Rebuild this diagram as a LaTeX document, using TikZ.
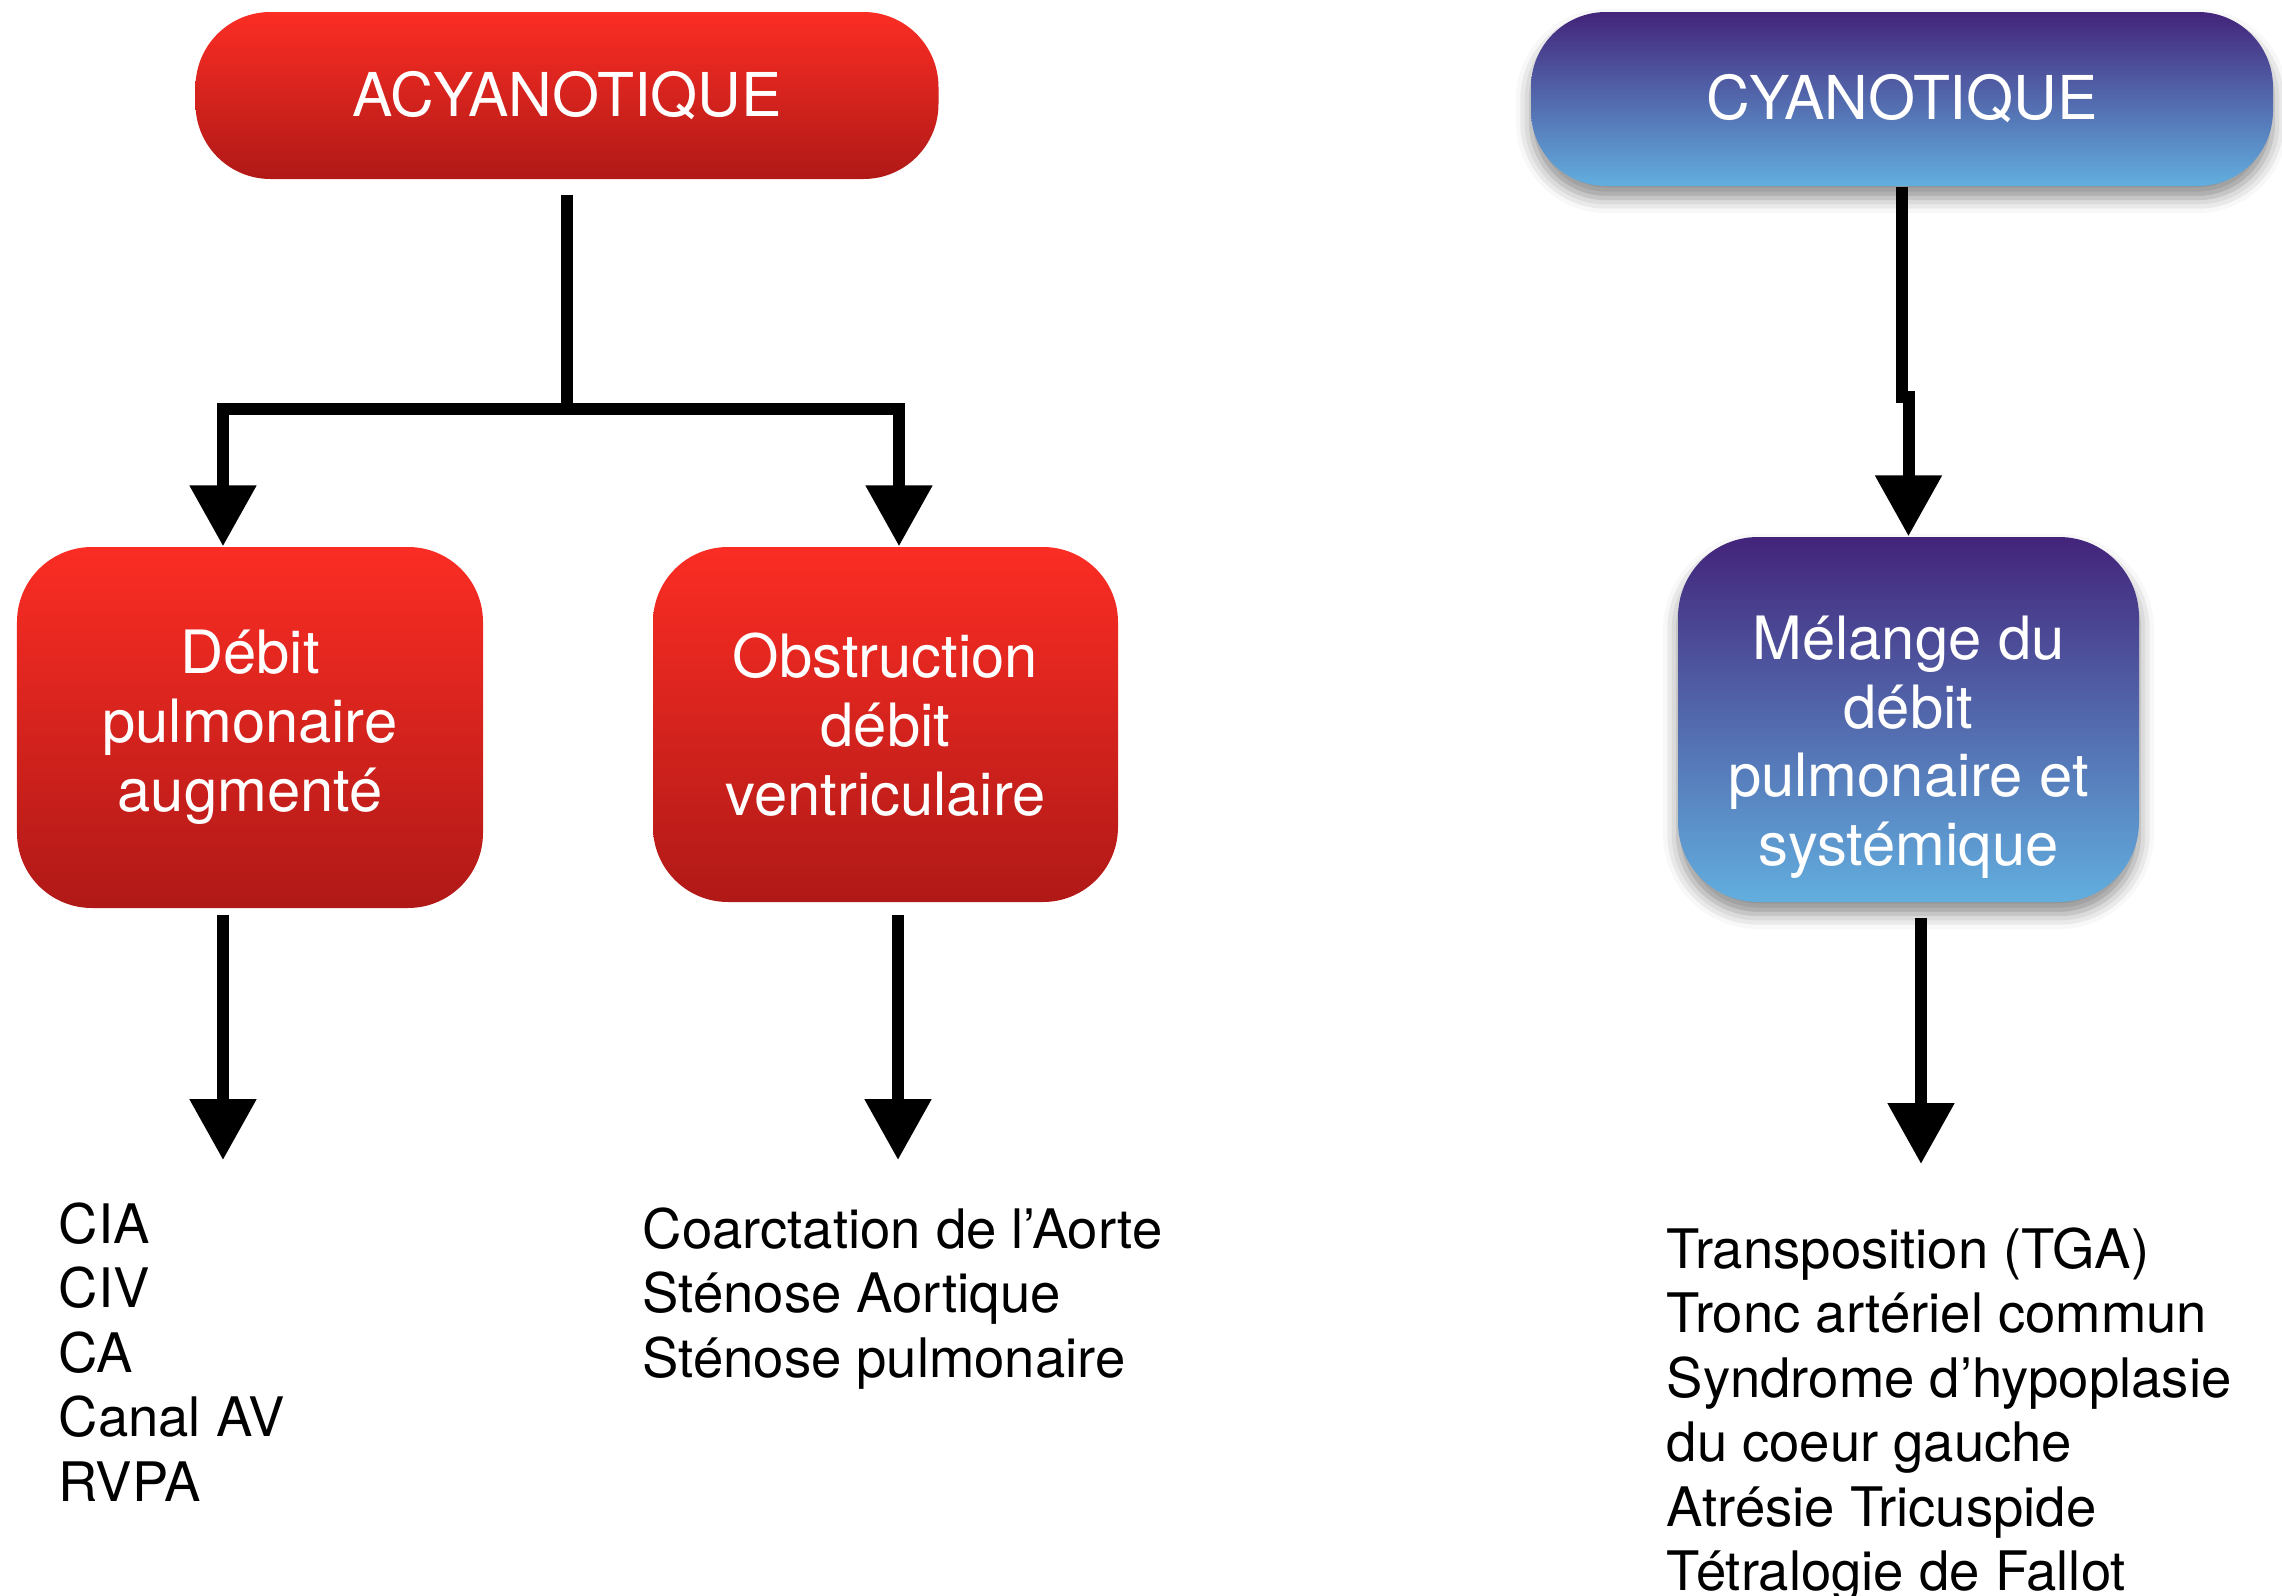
\documentclass[tikz,border=0pt]{standalone}
\usepackage{fontspec}
\setmainfont{TeX Gyre Heros}
\usetikzlibrary{arrows.meta,shadows.blur}

\definecolor{redtop}{HTML}{FB2D24}
\definecolor{redbot}{HTML}{B01917}
\definecolor{bluetop}{HTML}{43247A}
\definecolor{bluebot}{HTML}{62AEDF}

\begin{document}
\begin{tikzpicture}[
  box/.style = {rounded corners=7.5mm, align=center, text=white, inner sep=0pt,
                font=\fontsize{17}{19.6}\selectfont},
  title/.style = {font=\fontsize{17.2}{20}\selectfont},
  redbox/.style = {box, top color=redtop, bottom color=redbot},
  bluebox/.style = {box, top color=bluetop, bottom color=bluebot,
                    blur shadow={shadow xshift=0pt, shadow yshift=-1.2mm,
                                 shadow blur radius=1.5mm, shadow opacity=45}},
  list/.style = {anchor=north west, align=left, inner sep=0pt,
                 font=\fontsize{15.5}{18.35}\selectfont},
  arr/.style = {-{Triangle[width=6.4mm,length=6.1mm]}, line width=1.2mm}
]
  \useasboundingbox (0,0) rectangle (22.82,-15.96);

  % Categories
  \node[redbox, title, minimum width=7.43cm, minimum height=1.67cm] (acy) at (5.67,-0.955) {ACYANOTIQUE};
  \node[bluebox, title, minimum width=7.42cm, minimum height=1.74cm] (cya) at (19.02,-0.99) {CYANOTIQUE};

  % Mechanisms
  \node[redbox, minimum width=4.66cm, minimum height=3.61cm] (deb) at (2.50,-7.275)
      {Débit\\pulmonaire\\augmenté};
  \node[redbox, minimum width=4.65cm, minimum height=3.55cm] (obs) at (8.855,-7.245)
      {Obstruction\\débit\\ventriculaire};
  \node[bluebox, minimum width=4.61cm, minimum height=3.65cm, rounded corners=8mm] (mel) at (19.085,-7.195)
      {\rule{0pt}{9.9mm}Mélange du\\débit\\pulmonaire et\\systémique};

  % Lesions
  \node[list] (deblist) at (0.58,-12.02) {CIA\\CIV\\CA\\Canal AV\\RVPA};
  \node[list] (obslist) at (6.42,-12.07)
      {Coarctation de l’Aorte\\Sténose Aortique\\Sténose pulmonaire};
  \node[list] (mellist) at (16.66,-12.27)
      {Transposition (TGA)\\Tronc artériel commun\\Syndrome d’hypoplasie\\du coeur gauche\\Atrésie Tricuspide\\Tétralogie de Fallot};

  % Arrows: categories -> mechanisms
  \coordinate (fork) at (5.67,-4.09);
  \draw[line width=1.2mm] ([yshift=-1.5mm]acy.south) -- (fork);
  \draw[arr] (fork) -| ([xshift=-2.7mm]deb.north);
  \draw[arr] (fork) -| ([xshift=1.35mm]obs.north);
  \draw[arr] (cya.south) -- ++(0,-2.1) -| (mel.north);

  % Arrows: mechanisms -> lesions
  \coordinate (debend) at (2.23,-11.60);
  \coordinate (obsend) at (8.98,-11.60);
  \coordinate (melend) at (19.21,-11.64);
  \draw[arr] ([yshift=-0.6mm]deb.south -| debend) -- (debend);
  \draw[arr] ([yshift=-1.2mm]obs.south -| obsend) -- (obsend);
  \draw[arr] ([yshift=-1.5mm]mel.south -| melend) -- (melend);

\end{tikzpicture}
\end{document}
